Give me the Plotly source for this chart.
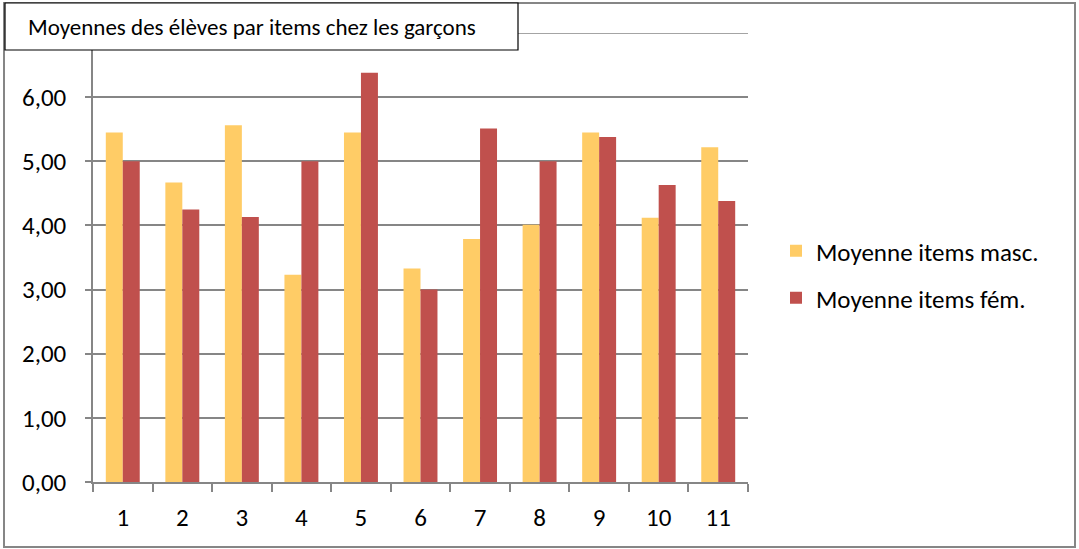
import plotly.graph_objects as go

categories = ["1", "2", "3", "4", "5", "6", "7", "8", "9", "10", "11"]
masc = [5.45, 4.67, 5.56, 3.23, 5.45, 3.33, 3.79, 4.01, 5.45, 4.12, 5.22]
fem = [5.00, 4.25, 4.13, 5.00, 6.38, 3.00, 5.51, 5.00, 5.38, 4.63, 4.38]
y_ticks = [0, 1, 2, 3, 4, 5, 6, 7]
title_text = "Moyennes des élèves par items chez les garçons"
name_masc = "Moyenne items masc."
name_fem = "Moyenne items fém."

FONT = "Carlito, Lato, 'Open Sans', sans-serif"
W, H = 1079, 549
L, R, T, B = 93, 331, 33, 67
pw, ph = W - L - R, H - T - B

def px(x):
    return (x - L) / pw

def py(y):
    return (H - B - y) / ph

fig = go.Figure()
fig.add_trace(go.Bar(x=categories, y=masc, name=name_masc, marker_color="#FFCC66",
                     marker_line_width=0, legend="legend"))
fig.add_trace(go.Bar(x=categories, y=fem, name=name_fem, marker_color="#C0504D",
                     marker_line_width=0, legend="legend2"))

legend_common = dict(font=dict(family=FONT, size=25, color="#000000"),
                     bgcolor="rgba(0,0,0,0)", xanchor="left", yanchor="middle",
                     itemwidth=30)
fig.update_layout(
    width=W, height=H,
    margin=dict(l=L, r=R, t=T, b=B, pad=0),
    plot_bgcolor="white", paper_bgcolor="white",
    barmode="group", bargap=0.43, bargroupgap=0,
    separators=", ",
    font=dict(family=FONT, size=25, color="#000000"),
    showlegend=True,
    legend=dict(x=px(776), y=py(251), **legend_common),
    legend2=dict(x=px(776), y=py(298), **legend_common),
    xaxis=dict(type="category", showgrid=False, showline=True, linecolor="#868686",
               linewidth=1.5, ticks="outside", tickson="boundaries", ticklen=8,
               tickcolor="#868686", tickwidth=1.5, ticklabelstandoff=12,
               tickfont=dict(family=FONT, size=25)),
    yaxis=dict(range=[0, 7], tickvals=y_ticks[:-1], tickformat=".2f",
               showgrid=True, gridcolor="#868686", gridwidth=1.5,
               showline=True, linecolor="#868686", linewidth=1.5,
               ticks="outside", ticklen=6, tickcolor="#868686", tickwidth=1.5,
               ticklabelstandoff=14,
               zeroline=False, tickfont=dict(family=FONT, size=25)),
)
# top gridline at 7
fig.add_shape(type="line", xref="paper", yref="y", x0=0, x1=1, y0=y_ticks[-1], y1=y_ticks[-1],
              line=dict(color="#868686", width=1.5), layer="below")
# outer chart border
fig.add_shape(type="rect", xref="paper", yref="paper",
              x0=px(4), x1=px(1075), y0=py(547), y1=py(3),
              line=dict(color="#868686", width=2), fillcolor="rgba(0,0,0,0)")
# title box
fig.add_shape(type="rect", xref="paper", yref="paper",
              x0=px(5), x1=px(518), y0=py(50), y1=py(3),
              line=dict(color="#000000", width=1.2), fillcolor="white", layer="above")
fig.add_annotation(xref="paper", yref="paper", x=px(252), y=py(27), text=title_text,
                   showarrow=False, xanchor="center", yanchor="middle",
                   font=dict(family=FONT, size=23, color="#000000"))

fig.write_html("out.html", config={"displayModeBar": False},
               post_script="document.body.style.margin='0';")
